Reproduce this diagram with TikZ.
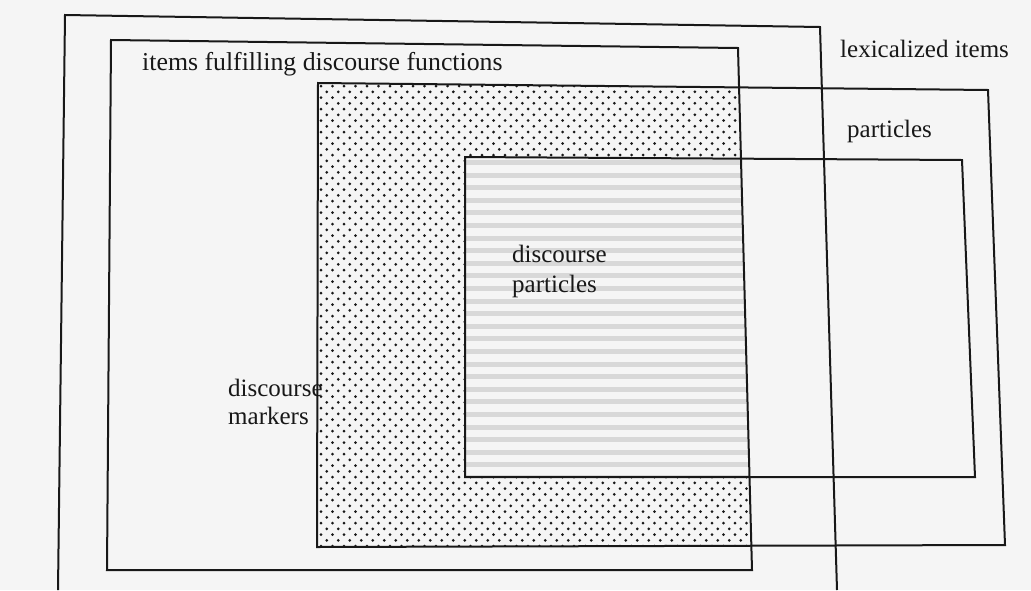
\documentclass[tikz,border=0pt]{standalone}
\usepackage{fontspec}
\setmainfont{Liberation Serif}
\definecolor{ink}{HTML}{181818}
\definecolor{paper}{HTML}{F5F5F5}
\definecolor{band}{HTML}{D8D8D8}
\begin{document}
\begin{tikzpicture}[x=1pt,y=-1pt,
  frame/.style={draw=ink, line width=2pt, line join=miter},
  lbl/.style={inner sep=0pt, text=ink, font=\fontsize{25}{29}\selectfont},
]
\useasboundingbox (0,0) rectangle (1031,590);
\fill[paper] (0,0) rectangle (1031,590);

% corners
\coordinate (oBL) at (58,590);  \coordinate (oTL) at (65,15);
\coordinate (oTR) at (820,27);  \coordinate (oBR) at (837,590);
\coordinate (fTL) at (111,40);  \coordinate (fTR) at (738,48);
\coordinate (fBR) at (752,570); \coordinate (fBL) at (107,570);
\coordinate (pTL) at (318,83);  \coordinate (pTR) at (988,90);
\coordinate (pBR) at (1005,545);\coordinate (pBL) at (317,547);
\coordinate (dTL) at (465,157); \coordinate (dTR) at (962,160);
\coordinate (dBR) at (975,477); \coordinate (dBL) at (465,477);

% dotted area
\begin{scope}
  \clip (pTL) -- (pTR) -- (pBR) -- (pBL) -- cycle;
  \clip (fTL) -- (fTR) -- (fBR) -- (fBL) -- cycle;
  \foreach \r in {0,...,81} {
    \pgfmathsetmacro\yy{86+\r*5.75}
    \pgfmathsetmacro\xo{mod(\r,2)*5.75}
    \foreach \c in {0,...,38} {
      \fill[ink] (321+\xo+\c*11.5, \yy) circle[radius=1.5pt];
    }
  }
\end{scope}

% striped area
\begin{scope}
  \clip (dTL) -- (dTR) -- (dBR) -- (dBL) -- cycle;
  \clip (fTL) -- (fTR) -- (fBR) -- (fBL) -- cycle;
  \fill[paper] (400,100) rectangle (800,500);
  \foreach \k in {0,...,25} {
    \fill[band] (400,{160+\k*12.6}) rectangle (800,{165+\k*12.6});
  }
\end{scope}

% frames
\draw[frame] (oBL) -- (oTL) -- (oTR) -- (oBR);
\draw[frame] (fTL) -- (fTR) -- (fBR) -- (fBL) -- cycle;
\draw[frame] (pTL) -- (pTR) -- (pBR) -- (pBL) -- cycle;
\draw[frame] (dTL) -- (dTR) -- (dBR) -- (dBL) -- cycle;

% labels
\node[lbl, anchor=base west] (lex) at (840,57) {lexicalized items};
\node[lbl, anchor=base west, font=\fontsize{25.8}{29}\selectfont] (items) at (142,70) {items fulfilling discourse functions};
\node[lbl, anchor=base west] (part) at (847,137) {particles};
\node[lbl, anchor=north west, align=left, font=\fontsize{25}{30}\selectfont] (dp) at (512,245) {discourse\\particles};
\node[lbl, anchor=north west, align=left, font=\fontsize{25}{27.5}\selectfont] (dm) at (228,379) {discourse\\markers};
\end{tikzpicture}
\end{document}
